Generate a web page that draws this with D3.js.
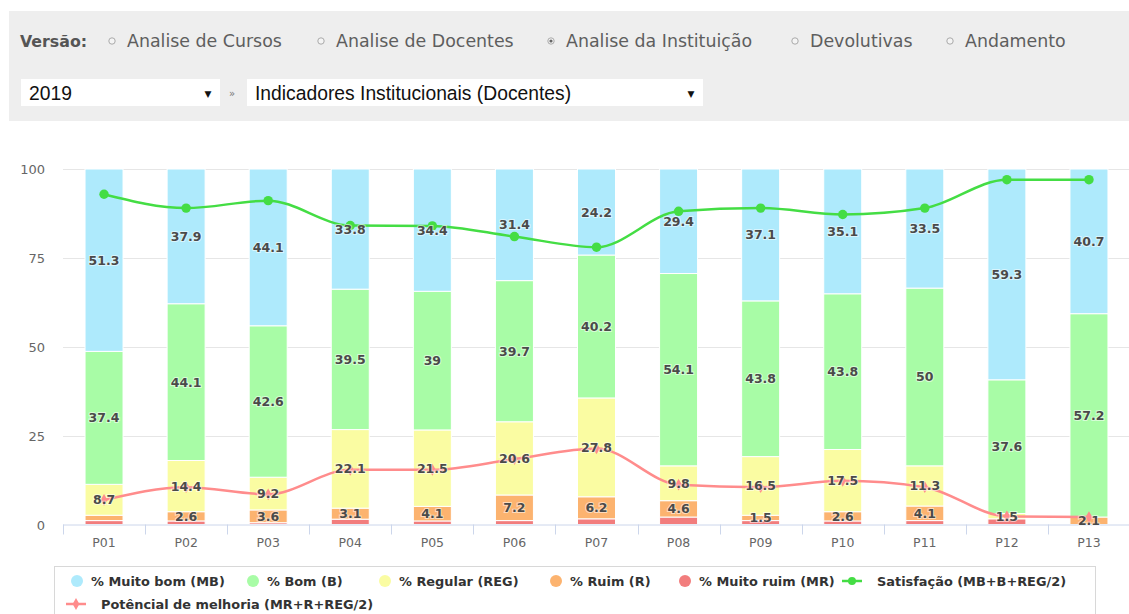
<!DOCTYPE html>
<html>
<head>
<meta charset="utf-8">
<script src="https://cdn.jsdelivr.net/npm/d3@7"></script>
<style>
  html, body { margin: 0; padding: 0; background: #fff; }
  svg { display: block; }
</style>
</head>
<body>
<svg id="chart" width="1129" height="614"></svg>
<script>
// ---------------- DATA ----------------
const categories = ["P01","P02","P03","P04","P05","P06","P07","P08","P09","P10","P11","P12","P13"];
const muitoBom  = [51.3, 37.9, 44.1, 33.8, 34.4, 31.4, 24.2, 29.4, 37.1, 35.1, 33.5, 59.3, 40.7];
const bom       = [37.4, 44.1, 42.6, 39.5, 39.0, 39.7, 40.2, 54.1, 43.8, 43.8, 50.0, 37.6, 57.2];
const regular   = [8.7, 14.4, 9.2, 22.1, 21.5, 20.6, 27.8, 9.8, 16.5, 17.5, 11.3, 1.5, 0];
const ruim      = [1.5, 2.6, 3.6, 3.1, 4.1, 7.2, 6.2, 4.6, 1.5, 2.6, 4.1, 0, 2.1];
const muitoRuim = [1.1, 1.0, 0.5, 1.5, 1.0, 1.1, 1.6, 2.1, 1.1, 1.0, 1.1, 1.6, 0];
const satisfacao = [92.9, 89.0, 91.1, 84.1, 84.0, 81.0, 78.0, 88.1, 89.0, 87.2, 89.0, 97.0, 97.0];
const potencial  = [6.9, 10.5, 8.5, 15.4, 15.4, 18.4, 21.4, 11.2, 10.5, 12.3, 10.5, 2.3, 2.1];
const yTicks = [0, 25, 50, 75, 100];
const versoes = ["Analise de Cursos", "Analise de Docentes", "Analise da Instituição", "Devolutivas", "Andamento"];
const versaoSelecionada = "Analise da Instituição";
const anoSelecionado = "2019";
const relatorioSelecionado = "Indicadores Institucionais (Docentes)";

const barSeries = [
  { key: "MB",  name: "% Muito bom (MB)",  values: muitoBom,  color: "#aeeafc" },
  { key: "B",   name: "% Bom (B)",         values: bom,       color: "#a8fca6" },
  { key: "REG", name: "% Regular (REG)",   values: regular,   color: "#fafca2" },
  { key: "R",   name: "% Ruim (R)",        values: ruim,      color: "#fcb36f" },
  { key: "MR",  name: "% Muito ruim (MR)", values: muitoRuim, color: "#f27d7d" }
];
const lineSeries = [
  { name: "Satisfação (MB+B+REG/2)", values: satisfacao, color: "#44dd44", symbol: "circle" },
  { name: "Potêncial de melhoria (MR+R+REG/2)", values: potencial, color: "#ff8c8c", symbol: "diamond" }
];

// ---------------- DRAW ----------------
const svg = d3.select("#chart");

// Header panel
const header = svg.append("g");
header.append("rect").attr("x", 9).attr("y", 11).attr("width", 1120).attr("height", 110).attr("fill", "#eeeeee");
header.append("text").attr("x", 20).attr("y", 47)
  .attr("font-family", "DejaVu Sans").attr("font-weight", "bold").attr("font-size", 15.8)
  .attr("fill", "#555").text("Versão:");
const radioX = [112, 321, 551, 795, 950];
versoes.forEach((v, i) => {
  const g = header.append("g");
  g.append("circle").attr("cx", radioX[i]).attr("cy", 41).attr("r", 3.2)
    .attr("fill", "#f4f4f4").attr("stroke", "#aaa").attr("stroke-width", 1);
  if (v === versaoSelecionada) {
    g.append("circle").attr("cx", radioX[i]).attr("cy", 41).attr("r", 1.6).attr("fill", "#666");
  }
  g.append("text").attr("x", radioX[i] + 15).attr("y", 47)
    .attr("font-family", "DejaVu Sans").attr("font-size", 17.4)
    .attr("fill", "#5e5e5e").text(v);
});
// selects
header.append("rect").attr("x", 21).attr("y", 79).attr("width", 199).attr("height", 27).attr("fill", "#fff");
header.append("text").attr("x", 29).attr("y", 99.5).attr("font-family", "Liberation Sans").attr("font-size", 19.3)
  .attr("fill", "#111").text(anoSelecionado);
header.append("text").attr("x", 208).attr("y", 97).attr("text-anchor", "middle").attr("font-family", "DejaVu Sans")
  .attr("font-size", 9).attr("fill", "#111").text("▼");
header.append("text").attr("x", 232).attr("y", 97).attr("text-anchor", "middle").attr("font-family", "DejaVu Sans")
  .attr("font-size", 10).attr("fill", "#777").text("»");
header.append("rect").attr("x", 247).attr("y", 79).attr("width", 456).attr("height", 27).attr("fill", "#fff");
header.append("text").attr("x", 255).attr("y", 99.5).attr("font-family", "Liberation Sans").attr("font-size", 19.3)
  .attr("fill", "#111").text(relatorioSelecionado);
header.append("text").attr("x", 691).attr("y", 97).attr("text-anchor", "middle").attr("font-family", "DejaVu Sans")
  .attr("font-size", 9).attr("fill", "#111").text("▼");

// Scales
const plotLeft = 63, plotRight = 1130, plotTop = 169, plotBottom = 524.5;
const x = d3.scaleBand().domain(categories).range([plotLeft, plotRight]).paddingInner(0).paddingOuter(0);
const y = d3.scaleLinear().domain([0, 100]).range([plotBottom, plotTop]);
const barW = 38;

// Gridlines
const grid = svg.append("g");
grid.selectAll("line").data(yTicks.filter(t => t > 0)).join("line")
  .attr("x1", plotLeft).attr("x2", plotRight)
  .attr("y1", d => Math.round(y(d)) + 0.5).attr("y2", d => Math.round(y(d)) + 0.5)
  .attr("stroke", "#e6e6e6").attr("stroke-width", 1);

// Y axis labels
const yAxis = d3.axisLeft(y).tickValues(yTicks).tickSize(0).tickPadding(0);
const yg = svg.append("g").attr("transform", `translate(45,0)`).call(yAxis);
yg.select(".domain").remove();
yg.selectAll("text").attr("font-family", "DejaVu Sans").attr("font-size", 13).attr("fill", "#666").attr("dy", "0.35em");

// Stacked bars
const stackData = categories.map((c, i) => {
  const o = { cat: c };
  barSeries.forEach(s => o[s.key] = s.values[i]);
  return o;
});
const stackOrder = ["MR", "R", "REG", "B", "MB"];
const stacked = d3.stack().keys(stackOrder)(stackData);
const colorByKey = Object.fromEntries(barSeries.map(s => [s.key, s.color]));

const bars = svg.append("g");
stacked.forEach(layer => {
  bars.append("g").attr("fill", colorByKey[layer.key])
    .selectAll("rect").data(layer).join("rect")
    .attr("x", d => x(d.data.cat) + x.bandwidth() / 2 - barW / 2)
    .attr("width", barW)
    .attr("y", d => y(d[1]))
    .attr("height", d => Math.max(0, y(d[0]) - y(d[1])))
    .attr("stroke", "#ffffff").attr("stroke-width", 1);
});

// X axis
const xAxis = d3.axisBottom(x).tickSize(0).tickPadding(14);
const xg = svg.append("g").attr("transform", `translate(0,${plotBottom})`).call(xAxis);
xg.select(".domain").attr("stroke", "#ccd6eb").attr("d", `M${plotLeft},0.5H${plotRight}`);
xg.selectAll("text").attr("font-family", "DejaVu Sans").attr("font-size", 12.5).attr("fill", "#666");
const boundaries = categories.map(c => x(c)).concat([x(categories[categories.length - 1]) + x.bandwidth()]);
xg.selectAll("line.bt").data(boundaries).join("line").attr("class", "bt")
  .attr("x1", d => Math.round(d) + 0.5).attr("x2", d => Math.round(d) + 0.5)
  .attr("y1", 0).attr("y2", 10).attr("stroke", "#ccd6eb");

// Lines
const cx = c => x(c) + x.bandwidth() / 2;
const lineGen = d3.line().x((d, i) => cx(categories[i])).y(d => y(d)).curve(d3.curveMonotoneX);
const linesG = svg.append("g");
lineSeries.forEach(s => {
  linesG.append("path").attr("d", lineGen(s.values)).attr("fill", "none")
    .attr("stroke", s.color).attr("stroke-width", 2.5).attr("stroke-linejoin", "round");
  const sym = d3.symbol().type(s.symbol === "circle" ? d3.symbolCircle : d3.symbolDiamond)
    .size(s.symbol === "circle" ? 70 : 40);
  linesG.append("g").selectAll("path").data(s.values).join("path")
    .attr("transform", (d, i) => `translate(${cx(categories[i])},${y(d)})`)
    .attr("d", sym).attr("fill", s.color);
});

// Data labels (centered in segments; hide overlapping)
const labelG = svg.append("g");
const shownBoxes = [];
["MB", "B", "REG", "R"].forEach(key => {
  const layer = stacked.find(l => l.key === key);
  layer.forEach(d => {
    const v = d.data[key];
    if (!v) return;
    const yc = (y(d[0]) + y(d[1])) / 2;
    const xc = cx(d.data.cat);
    const box = { x0: xc - 18, x1: xc + 18, y0: yc - 10, y1: yc + 10 };
    if (shownBoxes.some(b => b.x0 < box.x1 && box.x0 < b.x1 && b.y0 < box.y1 && box.y0 < b.y1)) return;
    shownBoxes.push(box);
    labelG.append("text").attr("x", xc).attr("y", yc).attr("dy", "0.36em")
      .attr("text-anchor", "middle").attr("font-family", "DejaVu Sans").attr("font-weight", "bold")
      .attr("font-size", 12.5).attr("fill", "#4a4a4a")
      .attr("stroke", "rgba(255,255,255,0.55)").attr("stroke-width", 2).attr("paint-order", "stroke")
      .text(d3.format("~g")(v));
  });
});

// Legend
const legend = svg.append("g");
legend.append("rect").attr("x", 54.5).attr("y", 566.5).attr("width", 1041).attr("height", 70)
  .attr("fill", "none").attr("stroke", "#d8d8d8").attr("stroke-width", 1);
const legendFont = g => g.attr("font-family", "DejaVu Sans").attr("font-weight", "bold")
  .attr("font-size", 12.9).attr("fill", "#333");
const barLegendPos = [77, 253, 385, 556, 685];
barSeries.forEach((s, i) => {
  legend.append("circle").attr("cx", barLegendPos[i]).attr("cy", 581).attr("r", 6).attr("fill", s.color);
  legend.append("text").attr("x", barLegendPos[i] + 14).attr("y", 586).call(legendFont).text(s.name);
});
const lineLegendPos = [[852, 581], [76, 604]];
lineSeries.forEach((s, i) => {
  const [lx, ly] = lineLegendPos[i];
  legend.append("line").attr("x1", lx - 10).attr("x2", lx + 10).attr("y1", ly).attr("y2", ly)
    .attr("stroke", s.color).attr("stroke-width", 2.5);
  const sym = d3.symbol().type(s.symbol === "circle" ? d3.symbolCircle : d3.symbolDiamond)
    .size(s.symbol === "circle" ? 50 : 40);
  legend.append("path").attr("transform", `translate(${lx},${ly})`).attr("d", sym).attr("fill", s.color);
  legend.append("text").attr("x", lx + 25).attr("y", ly + 5).call(legendFont).text(s.name);
});
</script>
</body>
</html>
